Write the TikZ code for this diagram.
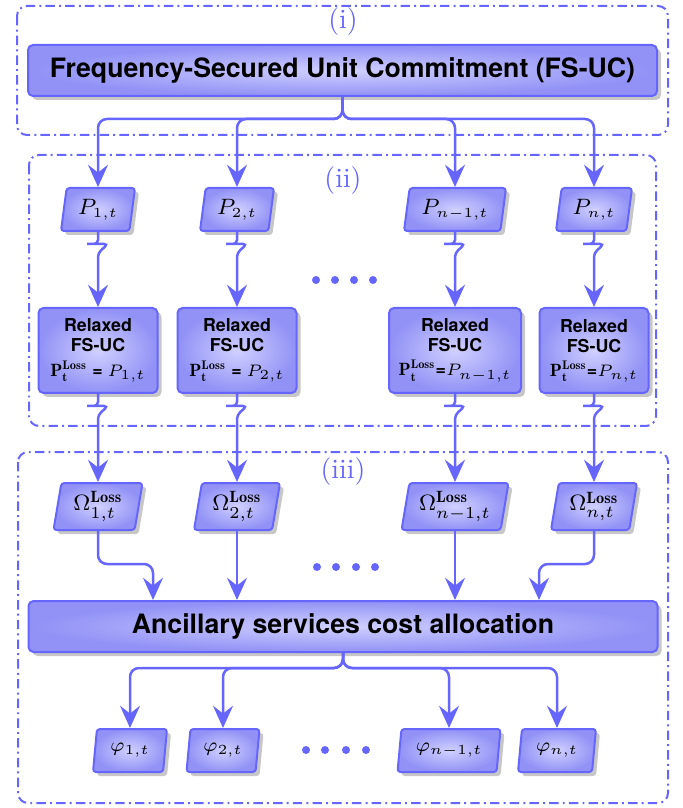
\documentclass[tikz,border=0pt]{standalone}
\usepackage{fontspec}
\setsansfont{TeX Gyre Heros}
\usetikzlibrary{arrows.meta,shapes.geometric,shadows}

% one drawing unit
\newlength{\pxu}
\setlength{\pxu}{0.36pt}

\definecolor{lc}{RGB}{102,102,255}
\definecolor{fin}{RGB}{208,208,255}
\definecolor{fout}{RGB}{145,145,246}

\tikzset{
  shadowed/.style={drop shadow={shadow xshift=4\pxu, shadow yshift=-4\pxu, fill=black!22, opacity=1}},
  filled/.style={draw=lc, line width=2\pxu, inner color=fin, outer color=fout, shadowed, text=black},
  bigbox/.style={filled, rounded corners=5\pxu, minimum width=629\pxu, minimum height=51\pxu,
    font=\sffamily\bfseries\fontsize{9.6}{11}\selectfont},
  relaxbox/.style={filled, rounded corners=5\pxu, minimum height=85\pxu, inner sep=1\pxu, align=center,
    font=\sffamily\bfseries\fontsize{6.4}{7.2}\selectfont},
  datanode/.style={filled, trapezium, trapezium left angle=76, trapezium right angle=104,
    trapezium stretches body, rounded corners=3\pxu, inner sep=1\pxu},
  pnode/.style={datanode, minimum height=43\pxu, font=\fontsize{7.8}{9}\selectfont},
  onode/.style={datanode, minimum height=47\pxu, font=\fontsize{8.4}{10}\selectfont},
  fnode/.style={datanode, minimum height=43\pxu, font=\fontsize{7.3}{9}\selectfont},
  flow/.style={draw=lc, line width=2.5\pxu, rounded corners=9\pxu,
    -{Stealth[length=8pt, width=7.2pt, inset=2.8pt]}},
  region/.style={draw=lc, line width=2\pxu, rounded corners=10\pxu,
    dash pattern=on 3.4pt off 1.5pt on 0.7pt off 1.5pt},
  lab/.style={text=lc, font=\fontsize{10}{12}\selectfont, inner sep=0pt},
  dot/.style={fill=lc},
}

\begin{document}
\begin{tikzpicture}[x=\pxu, y=-\pxu]
\useasboundingbox (0,0) rectangle (682,808);

% stage frames
\draw[region] (17,6) rectangle (668,135);
\draw[region] (29,155) rectangle (656,426);
\draw[region] (18,452) rectangle (668,803);
\node[lab] (li) at (343,22) {(i)};
\node[lab] (lii) at (343,181) {(ii)};
\node[lab] (liii) at (343,472) {(iii)};

% stage (i)
\node[bigbox] (fs) at (342.5,70.5) {Frequency-Secured Unit Commitment (FS-UC)};

% stage (ii): loss scenarios and relaxed problems
\node[pnode, minimum width=74\pxu] (p1) at (98,209.5) {$P_{1,t}$};
\node[pnode, minimum width=74\pxu] (p2) at (237,209.5) {$P_{2,t}$};
\node[pnode, minimum width=102\pxu] (p3) at (455,209.5) {$P_{n-1,t}$};
\node[pnode, minimum width=76\pxu] (p4) at (594,209.5) {$P_{n,t}$};

\node[relaxbox, minimum width=119\pxu] (r1) at (98,350.5)
  {Relaxed\\FS-UC\\[1.5pt]$\mathbf{P}^{\mathbf{Loss}}_{\mathbf{t}}$ = $P_{1,t}$};
\node[relaxbox, minimum width=119\pxu] (r2) at (237,350.5)
  {Relaxed\\FS-UC\\[1.5pt]$\mathbf{P}^{\mathbf{Loss}}_{\mathbf{t}}$ = $P_{2,t}$};
\node[relaxbox, minimum width=132\pxu] (r3) at (455,350.5)
  {Relaxed\\FS-UC\\[1.5pt]$\mathbf{P}^{\mathbf{Loss}}_{\mathbf{t}}$=$P_{n-1,t}$};
\node[relaxbox, minimum width=109\pxu] (r4) at (594,350.5)
  {Relaxed\\FS-UC\\[1.5pt]$\mathbf{P}^{\mathbf{Loss}}_{\mathbf{t}}$=$P_{n,t}$};

% stage (iii): loss costs and allocation
\node[onode, minimum width=89\pxu] (o1) at (98,506.5) {$\Omega^{\mathbf{Loss}}_{1,t}$};
\node[onode, minimum width=86\pxu] (o2) at (237,506.5) {$\Omega^{\mathbf{Loss}}_{2,t}$};
\node[onode, minimum width=107\pxu] (o3) at (455,506.5) {$\Omega^{\mathbf{Loss}}_{n-1,t}$};
\node[onode, minimum width=86\pxu] (o4) at (594,506.5) {$\Omega^{\mathbf{Loss}}_{n,t}$};

\node[bigbox] (cost) at (343,626.5) {Ancillary services cost allocation};

\node[fnode, minimum width=74\pxu] (f1) at (130,750.5) {$\varphi_{1,t}$};
\node[fnode, minimum width=73\pxu] (f2) at (223,750.5) {$\varphi_{2,t}$};
\node[fnode, minimum width=103\pxu] (f3) at (449,750.5) {$\varphi_{n-1,t}$};
\node[fnode, minimum width=78\pxu] (f4) at (557,750.5) {$\varphi_{n,t}$};

% elision dots
\foreach \x in {316,335,354,373} \fill[dot] (\x,280) circle[radius=4\pxu];
\foreach \x in {317,336,356,375} \fill[dot] (\x,567) circle[radius=4\pxu];
\foreach \x in {306,325,346,366} \fill[dot] (\x,750) circle[radius=4\pxu];

% connectors
\foreach \n in {p1,p2,p3,p4}
  \draw[flow] (fs.south) -- ++(0,22) -| (\n.north);

% broken links: the line bends into a short bar and resumes from its far end
\foreach \a/\b in {p1/r1,p2/r2,p3/r3,p4/r4,r1/o1,r2/o2,r3/o3,r4/o4}
  \draw[flow, rounded corners=4\pxu] (\a.south) -- ++(0,12) -- ++(-11,0)
    ++(0,0) -- ++(21,0) -- ++(-10,9) -- (\b.north);

\coordinate (k1) at (153,0);
\coordinate (k4) at (539,0);
\draw[flow] (o1.south) -- ++(0,33) -| (cost.north -| k1);
\draw[flow] (o2.south) -- (cost.north -| o2.south);
\draw[flow] (o3.south) -- (cost.north -| o3.south);
\draw[flow] (o4.south) -- ++(0,33) -| (cost.north -| k4);

\foreach \n in {f1,f2,f3,f4}
  \draw[flow] (cost.south) -- ++(0,15) -| (\n.north);
\end{tikzpicture}
\end{document}
